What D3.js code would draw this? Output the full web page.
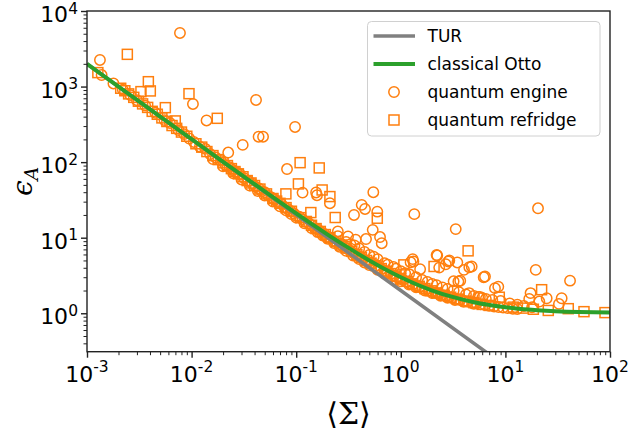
<!DOCTYPE html>
<html><head><meta charset="utf-8">
<script src="https://cdn.jsdelivr.net/npm/d3@7"></script>
<style>
body{margin:0;background:#fff;}
svg{display:block;}
</style></head>
<body><svg id="chart" width="629" height="438"></svg>
<script>
// ---------------- DATA ----------------
const xTickExps = [-3, -2, -1, 0, 1, 2];
const yTickExps = [0, 1, 2, 3, 4];

const turSigma = [0.001, 0.01, 0.1, 1, 6.6];
const turEps   = [2000, 200, 20, 2, 0.303];

const ottoSigma = [0.001, 0.002, 0.003, 0.005, 0.007, 0.01, 0.02, 0.03, 0.05, 0.07, 0.1, 0.15, 0.2, 0.3, 0.5, 0.7, 1, 1.5, 2, 3, 5, 7, 10, 15, 20, 30, 50, 70, 100];
const ottoEps   = [2001, 1001, 668, 401, 287, 201, 101, 67.7, 41, 29.6, 21, 14.3, 11, 7.67, 5, 3.86, 3, 2.33, 2, 1.67, 1.4, 1.29, 1.2, 1.13, 1.1, 1.067, 1.04, 1.029, 1.02];

// quantum engine (circles)
const engineSigma = [
 0.00774, 0.00133, 0.00138, 0.00179, 0.0413, 0.0103, 0.0139, 0.0975, 0.0308, 0.0437, 0.0482, 0.0224, 0.0817, 0.115, 0.155, 0.158,
 0.546, 0.423, 0.455, 0.357, 0.596, 0.21, 1.346, 0.539, 0.633, 0.657, 3.35, 20.5, 4.76, 6.38, 19.5, 41.5,
 2.23, 2.91, 3.47, 4.02, 4.52, 2.69, 2.33, 1.3, 1.24, 1.53, 3.55, 7.95, 8.55, 17.4, 24.8, 16.9, 34.5, 32.5, 21.1,
 0.25, 0.313, 0.37, 0.465, 1.32, 2.2, 2.85, 3.2, 3.7, 5.7, 6.2,
 0.0022, 0.0026, 0.003, 0.0036, 0.0045, 0.0055, 0.0062, 0.0075, 0.0085, 0.0095,
 0.0105, 0.012, 0.0135, 0.015, 0.017, 0.019, 0.021, 0.023, 0.025, 0.027, 0.029, 0.032, 0.035, 0.038, 0.041, 0.044, 0.047, 0.05, 0.054, 0.058, 0.062, 0.067, 0.072, 0.077, 0.083, 0.089, 0.095,
 0.1, 0.107, 0.115, 0.123, 0.132, 0.141, 0.151, 0.162, 0.174, 0.186, 0.2, 0.214, 0.23, 0.246, 0.264, 0.283, 0.303, 0.325, 0.348, 0.373, 0.4, 0.43, 0.46, 0.49, 0.53, 0.57, 0.61, 0.65, 0.7, 0.75, 0.8, 0.86, 0.92, 0.98,
 1.05, 1.13, 1.21, 1.3, 1.4, 1.5, 1.6, 1.72, 1.85, 2.0, 2.15, 2.3, 2.5, 2.7, 2.9, 3.1, 3.4, 3.7, 4.0, 4.4, 4.8, 5.3, 5.8, 6.4, 7.0, 7.8, 8.6, 9.5, 10.5, 11.8, 13,
 0.25, 0.3, 0.33, 0.36, 0.4, 0.45, 0.5, 0.55, 0.6, 0.7, 0.75, 0.85, 0.9, 1.0, 1.1, 1.2, 1.4, 1.6, 1.8, 2.0, 2.2, 2.5, 2.8, 3.2, 3.6, 4.2, 4.5, 5.0, 5.5, 6.0, 6.5, 7.5, 9, 11, 13, 15, 18,
 0.016, 0.02, 0.025, 0.03, 0.036, 0.043, 0.05, 0.06, 0.07, 0.08, 0.09, 0.1, 0.12, 0.14, 0.16, 0.18, 0.2, 0.23, 0.26, 0.3, 0.35, 0.4, 0.45, 0.5, 0.6, 0.7, 0.8, 0.9, 1.0, 1.2, 1.4, 1.7, 2.0, 2.4, 2.8, 3.3, 4, 5
];
const engineEps = [
 5120, 2250, 1420, 1100, 665, 589, 356, 292, 169, 217, 217, 134, 81, 39.5, 39.7, 36.5,
 40, 27.2, 24, 20, 22.1, 28.6, 20.5, 12.7, 10.2, 8.45, 13, 24.5, 4.15, 3.06, 3.75, 2.7,
 5.8, 5.0, 4.7, 3.75, 4.07, 4.45, 4.02, 5.2, 4.74, 3.83, 2.63, 2.15, 2.25, 1.85, 1.58, 1.55, 1.58, 1.33, 1.43,
 12.1, 10.4, 9.4, 9.6, 4.85, 5.9, 4.85, 2.65, 2.7, 1.65, 3.0,
 910, 770, 660, 560, 450, 360, 330, 265, 235, 205,
 185, 160, 150, 128, 115, 104, 92, 86, 78, 73, 69, 61, 56, 52, 47, 45, 41, 40, 36, 34, 32, 29.5, 28, 25.5, 24, 22.5, 21,
 19.5, 19, 17.5, 16.2, 15.5, 14.5, 13.2, 12.8, 11.8, 11.2, 10.3, 9.8, 9.1, 8.6, 8.2, 7.6, 7.2, 6.8, 6.3, 6.0, 5.6, 5.35, 5.0, 4.75, 4.5, 4.25, 4.0, 3.85, 3.65, 3.45, 3.3, 3.15, 3.0, 2.9,
 2.75, 2.62, 2.5, 2.42, 2.32, 2.24, 2.15, 2.07, 2.0, 1.92, 1.86, 1.8, 1.74, 1.68, 1.64, 1.6, 1.55, 1.5, 1.46, 1.42, 1.38, 1.35, 1.31, 1.28, 1.26, 1.23, 1.21, 1.19, 1.17, 1.15, 1.14,
 10.5, 8.8, 8.2, 7.9, 7.2, 6.5, 5.9, 5.6, 5.2, 4.6, 4.4, 4.1, 3.9, 3.6, 3.4, 3.3, 3.0, 2.75, 2.6, 2.45, 2.35, 2.2, 2.1, 2.0, 1.9, 1.78, 1.85, 1.7, 1.65, 1.6, 1.55, 1.5, 1.45, 1.35, 1.3, 1.25, 1.2,
 110, 88, 71, 59, 49, 41.5, 36, 30, 26, 23, 20.5, 18.5, 15.5, 13.4, 11.9, 10.7, 9.7, 8.5, 7.6, 6.7, 5.8, 5.2, 4.7, 4.35, 3.75, 3.35, 3.05, 2.8, 2.65, 2.4, 2.2, 2.0, 1.85, 1.7, 1.6, 1.5, 1.42, 1.33
];

// quantum refrigerator (squares)
const fridgeSigma = [
 0.00243, 0.00127, 0.00386, 0.00328, 0.00403, 0.00944, 0.00561, 0.00698, 0.0176, 0.109, 0.166, 0.105, 0.0797, 0.177, 0.236, 0.138, 0.596, 0.21,
 4.4, 1.07, 2.08, 22.2, 8.74, 11.9, 14.8, 18.5, 25.7, 39.9, 56.4, 89.6,
 0.0021, 0.0023, 0.0025, 0.0028, 0.0031, 0.0034, 0.0038, 0.0042, 0.0047, 0.0052, 0.0058, 0.0065, 0.0072, 0.008, 0.009,
 0.011, 0.0125, 0.014, 0.016, 0.018, 0.02, 0.022, 0.024, 0.026, 0.028, 0.031, 0.034, 0.037, 0.04, 0.045, 0.052, 0.06, 0.065, 0.07, 0.08, 0.09,
 0.11, 0.125, 0.14, 0.155, 0.17, 0.19, 0.21, 0.24, 0.27, 0.3, 0.34, 0.38, 0.42, 0.47, 0.52, 0.58, 0.65, 0.72, 0.8, 0.9, 1.0,
 1.15, 1.3, 1.5, 1.7, 1.95, 2.2, 2.6, 3.0, 3.5, 4.2, 5, 6, 7
];
const fridgeEps = [
 2670, 1530, 1160, 857, 875, 805, 526, 351, 380, 98.4, 83.8, 51.5, 38, 42.8, 18.5, 21.5, 18.1, 35,
 6.7, 4.37, 4.16, 2.05, 1.63, 1.205, 1.17, 1.13, 1.09, 1.15, 1.05, 1.02,
 950, 880, 800, 720, 640, 590, 530, 470, 430, 385, 345, 305, 280, 250, 220,
 175, 158, 138, 122, 108, 98, 90, 82, 75, 70, 64, 57, 53, 49, 44, 38, 33, 30.5, 28.5, 25, 22.4,
 18.4, 16.4, 14.6, 13.2, 12.1, 11, 10, 8.9, 8, 7.3, 6.6, 5.95, 5.5, 5.0, 4.6, 4.25, 3.9, 3.6, 3.35, 3.1, 2.88,
 2.65, 2.45, 2.27, 2.12, 1.98, 1.86, 1.73, 1.63, 1.54, 1.45, 1.38, 1.31, 1.27
];

const legendLabels = ["TUR", "classical Otto", "quantum engine", "quantum refridge"];

// ---------------- DRAW ----------------
const svg = d3.select("#chart");
const L = 87, R = 610, T = 11, B = 351.7;
const x = d3.scaleLog().domain([1e-3, 1e2]).range([L, R]);
const y = d3.scaleLog().domain([0.31, 1e4]).range([B, T]);
const orange = "#ff7f0e";

svg.append("defs").append("clipPath").attr("id", "clip")
  .append("rect").attr("x", L).attr("y", T).attr("width", R - L).attr("height", B - T);

const plot = svg.append("g").attr("clip-path", "url(#clip)");

// scatter
const eng = d3.zip(engineSigma, engineEps);
const fr = d3.zip(fridgeSigma, fridgeEps);
plot.append("g").selectAll("rect").data(fr).join("rect")
  .attr("x", d => x(d[0]) - 5).attr("y", d => y(d[1]) - 5)
  .attr("width", 10).attr("height", 10)
  .attr("fill", "none").attr("stroke", orange).attr("stroke-width", 1.5);
plot.append("g").selectAll("circle").data(eng).join("circle")
  .attr("cx", d => x(d[0])).attr("cy", d => y(d[1])).attr("r", 5.2)
  .attr("fill", "none").attr("stroke", orange).attr("stroke-width", 1.5);

// lines
const line = d3.line().x(d => x(d[0])).y(d => y(d[1])).curve(d3.curveMonotoneX);
plot.append("path").datum(d3.zip(turSigma, turEps)).attr("d", d3.line().x(d => x(d[0])).y(d => y(d[1])))
  .attr("fill", "none").attr("stroke", "#808080").attr("stroke-width", 3.5);
plot.append("path").datum(d3.zip(ottoSigma, ottoEps)).attr("d", line)
  .attr("fill", "none").attr("stroke", "#2ca02c").attr("stroke-width", 4);

// axes
const xMajor = xTickExps.map(e => Math.pow(10, e));
const yMajor = yTickExps.map(e => Math.pow(10, e));
const xMinor = [], yMinor = [];
for (let e = -3; e < 2; e++) for (let k = 2; k < 10; k++) xMinor.push(k * Math.pow(10, e));
for (let e = -1; e < 4; e++) for (let k = 2; k < 10; k++) { const v = k * Math.pow(10, e); if (v >= 0.31 && v <= 1e4) yMinor.push(v); }

function styleAxis(g, w) {
  g.select(".domain").remove();
  g.selectAll("line").attr("stroke", "#222").attr("stroke-width", w);
  g.selectAll("text").remove();
}
svg.append("g").attr("transform", `translate(0,${B})`).call(d3.axisBottom(x).tickValues(xMinor).tickSize(3.5).tickFormat("")).call(g => styleAxis(g, 1));
svg.append("g").attr("transform", `translate(0,${B})`).call(d3.axisBottom(x).tickValues(xMajor).tickSize(6).tickFormat("")).call(g => styleAxis(g, 1.4));
svg.append("g").attr("transform", `translate(${L},0)`).call(d3.axisLeft(y).tickValues(yMinor).tickSize(3.5).tickFormat("")).call(g => styleAxis(g, 1));
svg.append("g").attr("transform", `translate(${L},0)`).call(d3.axisLeft(y).tickValues(yMajor).tickSize(6).tickFormat("")).call(g => styleAxis(g, 1.4));

// frame
svg.append("rect").attr("x", L).attr("y", T).attr("width", R - L).attr("height", B - T)
  .attr("fill", "none").attr("stroke", "#222").attr("stroke-width", 1.4);

// tick labels
const font = "'DejaVu Sans', sans-serif";
xTickExps.forEach((e, i) => {
  const t = svg.append("text").attr("x", x(xMajor[i])).attr("y", 382)
    .attr("text-anchor", "middle").attr("font-family", font).attr("font-size", 22).attr("fill", "#000");
  t.append("tspan").text("10");
  t.append("tspan").attr("dy", -10).attr("font-size", 15.5).text(String(e));
});
yTickExps.forEach((e, i) => {
  const t = svg.append("text").attr("x", 78).attr("y", y(yMajor[i]) + 11)
    .attr("text-anchor", "end").attr("font-family", font).attr("font-size", 22).attr("fill", "#000");
  t.append("tspan").text("10");
  t.append("tspan").attr("dy", -8.5).attr("font-size", 15.5).text(String(e));
});

// axis titles
svg.append("text").attr("x", (L + R) / 2).attr("y", 424).attr("text-anchor", "middle")
  .attr("font-family", "'DejaVu Serif', serif").attr("font-size", 30).text("⟨Σ⟩");
const yl = svg.append("text").attr("transform", `translate(32,${(T + B) / 2}) rotate(-90)`)
  .attr("text-anchor", "middle").attr("font-family", "'DejaVu Serif', serif").attr("font-size", 28);
yl.append("tspan").attr("font-style", "italic").text("ϵ");
yl.append("tspan").attr("font-style", "italic").attr("font-size", 19).attr("dy", 6).text("A");

// legend
const lg = svg.append("g");
lg.append("rect").attr("x", 367.5).attr("y", 21.5).attr("width", 232.5).attr("height", 114.5).attr("rx", 4)
  .attr("fill", "#fff").attr("fill-opacity", 0.8).attr("stroke", "#d0d0d0").attr("stroke-width", 1);
const rowY = [36, 64, 92, 120];
lg.append("line").attr("x1", 373.5).attr("x2", 415).attr("y1", rowY[0]).attr("y2", rowY[0]).attr("stroke", "#808080").attr("stroke-width", 3.5);
lg.append("line").attr("x1", 373.5).attr("x2", 415).attr("y1", rowY[1]).attr("y2", rowY[1]).attr("stroke", "#2ca02c").attr("stroke-width", 4);
lg.append("circle").attr("cx", 394).attr("cy", rowY[2]).attr("r", 5.2).attr("fill", "none").attr("stroke", orange).attr("stroke-width", 1.5);
lg.append("rect").attr("x", 389).attr("y", rowY[3] - 5).attr("width", 10).attr("height", 10).attr("fill", "none").attr("stroke", orange).attr("stroke-width", 1.5);
legendLabels.forEach((s, i) => {
  lg.append("text").attr("x", 427.5).attr("y", rowY[i] + 6).attr("font-family", font).attr("font-size", 17).attr("fill", "#000").text(s);
});
</script></body></html>
